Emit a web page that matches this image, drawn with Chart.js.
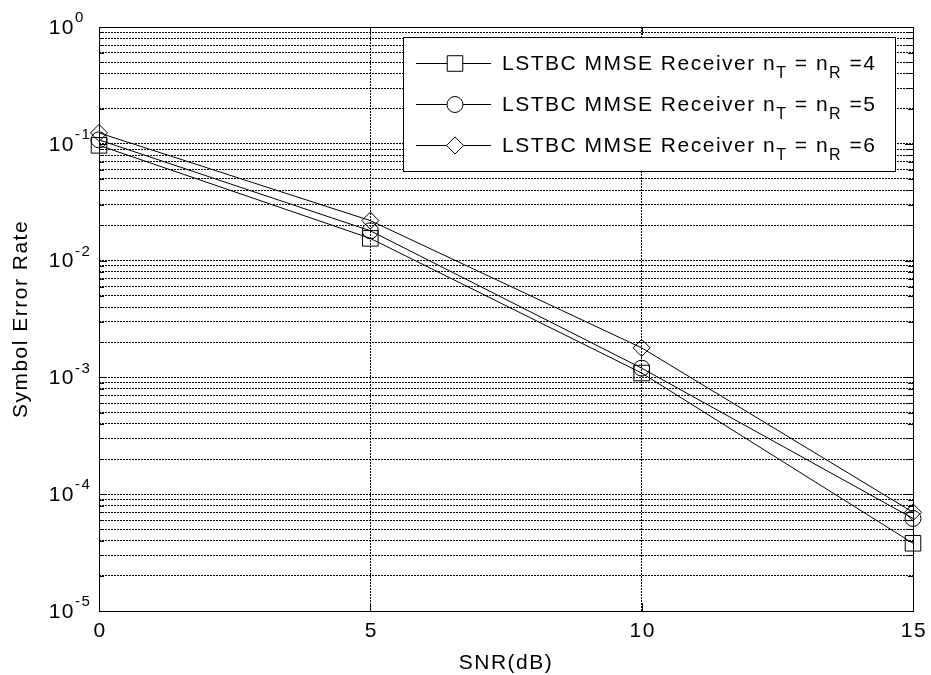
<!DOCTYPE html>
<html>
<head>
<meta charset="utf-8">
<script src="https://cdn.jsdelivr.net/npm/chart.js@4/dist/chart.umd.min.js"></script>
<style>
html,body{margin:0;padding:0;background:#fff;}
#wrap{width:931px;height:675px;}
</style>
</head>
<body>
<div id="wrap"><canvas id="serChart" width="931" height="675"></canvas></div>
<script>
// SER vs SNR for the LSTBC MMSE receiver, log y axis, matlab-like look
const snrDb = [0, 5, 10, 15];
const serN4 = [0.097, 0.0155, 0.00109, 0.000038];
const serN5 = [0.108, 0.018, 0.0012, 0.000062];
const serN6 = [0.124, 0.022, 0.00179, 0.00007];
const antennaCounts = [4, 5, 6];
const legendPrefix = 'LSTBC MMSE Receiver';
const xTicks = [0, 5, 10, 15];
const yDecades = [-5, -4, -3, -2, -1, 0];

const FONT = "'Liberation Sans', Arial, Helvetica, sans-serif";
const markers = [['rect', 11], ['circle', 8], ['rectRot', 8.5]];

// all 1..9 x 10^e positions for the log grid
const yGrid = [];
yDecades.forEach(e => { for (let s = 1; s <= 9; s++) { if (e === 0 && s > 1) break; yGrid.push(s * Math.pow(10, e)); } });

function mkSet(label, vals, i){
  return { label, data: snrDb.map((x, k) => ({x, y: vals[k]})), borderColor:'#000', borderWidth:1, tension:0, fill:false, clip:false,
    pointStyle: markers[i][0], pointRadius: markers[i][1], pointHoverRadius: markers[i][1], pointBorderColor:'#000', pointBackgroundColor:'rgba(0,0,0,0)', pointBorderWidth:1 };
}

// hollow marker for the legend rows (drawPoint fills then strokes)
function drawMarker(ctx, i, x, y){
  ctx.fillStyle = '#fff'; ctx.strokeStyle = '#000';
  Chart.helpers.drawPoint(ctx, {pointStyle: markers[i][0], radius: markers[i][1], rotation: 0, borderWidth: 1}, x, y);
}

// frame, inward ticks, labels, titles and legend drawn on top
const matlabAxes = {
  id: 'matlabAxes',
  afterDraw(chart){
    const ctx = chart.ctx, a = chart.chartArea, xs = chart.scales.x, ys = chart.scales.y;
    ctx.save();
    ctx.strokeStyle = '#000'; ctx.lineWidth = 1; ctx.setLineDash([]);
    ctx.strokeRect(a.left + 0.5, a.top + 0.5, a.right - a.left, a.bottom - a.top);
    ctx.beginPath();
    yGrid.forEach(v => { const y = Math.round(ys.getPixelForValue(v)) + 0.5; const len = Number.isInteger(Math.log10(v)) ? 8 : 5;
      ctx.moveTo(a.left, y); ctx.lineTo(a.left + len, y); ctx.moveTo(a.right, y); ctx.lineTo(a.right - len, y); });
    xTicks.forEach(v => { const x = Math.round(xs.getPixelForValue(v)) + 0.5;
      ctx.moveTo(x, a.bottom); ctx.lineTo(x, a.bottom - 8); ctx.moveTo(x, a.top); ctx.lineTo(x, a.top + 8); });
    ctx.stroke();

    ctx.fillStyle = '#000';
    ctx.letterSpacing = '1.5px';
    // x tick labels
    ctx.font = '21px ' + FONT; ctx.textAlign = 'center'; ctx.textBaseline = 'middle';
    xTicks.forEach(v => ctx.fillText(String(v), xs.getPixelForValue(v) + 1, a.bottom + 20));
    // y tick labels as 10 with raised exponent
    yDecades.forEach(e => {
      const y = ys.getPixelForValue(Math.pow(10, e));
      ctx.font = '21px ' + FONT; ctx.textAlign = 'right'; ctx.textBaseline = 'middle';
      ctx.fillText('10', a.left - 24, y + 1);
      ctx.font = '15px ' + FONT; ctx.textAlign = 'left';
      ctx.fillText(String(e), a.left - 24, y - 9);
    });
    // axis titles
    ctx.font = '21px ' + FONT; ctx.textAlign = 'center'; ctx.textBaseline = 'middle';
    ctx.fillText('SNR(dB)', (a.left + a.right) / 2, a.bottom + 52);
    ctx.save(); ctx.translate(21, (a.top + a.bottom) / 2); ctx.rotate(-Math.PI / 2);
    ctx.fillText('Symbol Error Rate', 0, 0); ctx.restore();

    // legend box
    const lx = 403, ly = 37, lw = 492, lh = 134;
    ctx.fillStyle = '#fff'; ctx.fillRect(lx, ly, lw, lh);
    ctx.strokeRect(lx + 0.5, ly + 0.5, lw, lh);
    antennaCounts.forEach((n, i) => {
      const ry = ly + 26 + i * 41;
      ctx.beginPath(); ctx.moveTo(lx + 13, ry + 0.5); ctx.lineTo(lx + 88, ry + 0.5); ctx.stroke();
      drawMarker(ctx, i, lx + 52, ry + 0.5);
      ctx.fillStyle = '#000'; ctx.textAlign = 'left'; ctx.textBaseline = 'alphabetic';
      let tx = lx + 99; const base = ry + 7;
      const put = (s, size, dy) => { ctx.font = size + 'px ' + FONT; ctx.fillText(s, tx, base + dy); tx += ctx.measureText(s).width; };
      put(legendPrefix + ' n', 21, 0); put('T', 16, 8); put(' = n', 21, 0); put('R', 16, 8); put(' =' + n, 21, 0);
    });
    ctx.restore();
  }
};

new Chart(document.getElementById('serChart'), {
  type: 'line',
  data: { datasets: [mkSet('n4', serN4, 0), mkSet('n5', serN5, 1), mkSet('n6', serN6, 2)] },
  options: {
    responsive: false, animation: false, devicePixelRatio: 1,
    layout: { padding: { left: 99, top: 27, right: 18, bottom: 64 } },
    plugins: { legend: { display: false }, tooltip: { enabled: false } },
    scales: {
      x: { type: 'linear', min: 0, max: 15,
        afterBuildTicks: s => { s.ticks = xTicks.map(v => ({value: v})); },
        ticks: { display: false }, grid: { color: '#000', lineWidth: 1, drawTicks: false }, border: { display: false, dash: [2, 1] } },
      y: { type: 'logarithmic', min: 1e-5, max: 1,
        afterBuildTicks: s => { s.ticks = yGrid.map(v => ({value: v})); },
        ticks: { display: false }, grid: { color: '#000', lineWidth: 1, drawTicks: false }, border: { display: false, dash: [2, 1] } }
    }
  },
  plugins: [matlabAxes]
});
</script>
</body>
</html>
